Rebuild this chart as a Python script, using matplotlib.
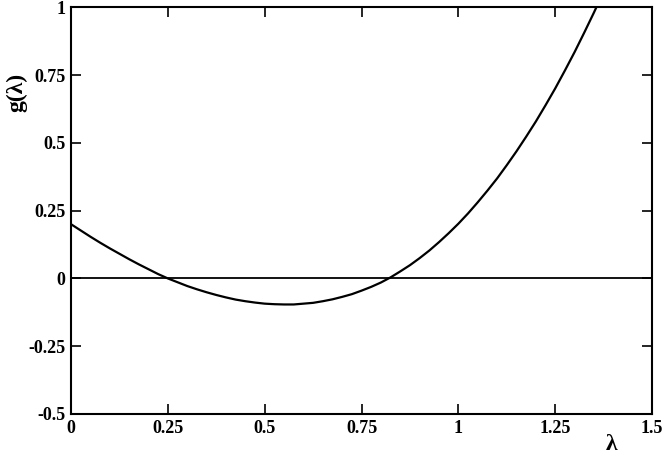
import numpy as np
import matplotlib
matplotlib.use("Agg")
import matplotlib.pyplot as plt

# values
lam = [0.000, 0.025, 0.050, 0.075, 0.100, 0.125, 0.150, 0.175, 0.200, 0.225,
       0.250, 0.275, 0.300, 0.325, 0.350, 0.375, 0.400, 0.425, 0.450, 0.475,
       0.500, 0.525, 0.550, 0.575, 0.600, 0.625, 0.650, 0.675, 0.700, 0.725,
       0.750, 0.775, 0.800, 0.825, 0.850, 0.875, 0.900, 0.925, 0.950, 0.975,
       1.000, 1.025, 1.050, 1.075, 1.100, 1.125, 1.150, 1.175, 1.200, 1.225,
       1.250, 1.275, 1.300, 1.325, 1.350, 1.360]
g = [0.200, 0.177, 0.154, 0.132, 0.111, 0.091, 0.071, 0.052, 0.034, 0.016,
     0.000, -0.014, -0.028, -0.040, -0.051, -0.061, -0.070, -0.078, -0.084, -0.089,
     -0.093, -0.095, -0.096, -0.096, -0.093, -0.090, -0.084, -0.077, -0.068, -0.058,
     -0.045, -0.031, -0.015, 0.004, 0.026, 0.049, 0.075, 0.103, 0.134, 0.167,
     0.202, 0.240, 0.281, 0.324, 0.369, 0.418, 0.469, 0.523, 0.579, 0.639,
     0.701, 0.767, 0.835, 0.907, 0.981, 1.012]

xticks = [0, 0.25, 0.5, 0.75, 1, 1.25, 1.5]
xlabels = ["0", "0.25", "0.5", "0.75", "1", "1.25", "1.5"]
yticks = [-0.5, -0.25, 0, 0.25, 0.5, 0.75, 1]
ylabels = ["-0.5", "-0.25", "0", "0.25", "0.5", "0.75", "1"]

plt.rcParams['font.family'] = ['Liberation Serif', 'DejaVu Serif']
plt.rcParams['font.weight'] = 'bold'

fig = plt.figure(figsize=(6.64, 4.61), dpi=100)
ax = fig.add_axes([0.107, 0.102, 0.875, 0.882])

ax.plot(lam, g, color='black', lw=1.6, solid_joinstyle='round')
ax.axhline(0, color='black', lw=1.3)

ax.set_xlim(0, 1.5)
ax.set_ylim(-0.5, 1)
ax.set_xticks(xticks)
ax.set_xticklabels(xlabels)
ax.set_yticks(yticks)
ax.set_yticklabels(ylabels)
ax.tick_params(direction='in', length=7, width=1.2, labelsize=13,
               top=True, right=True, pad=4)
for s in ax.spines.values():
    s.set_linewidth(1.5)

ax.set_xlabel("λ", fontsize=17, fontweight='bold')
ax.xaxis.set_label_coords(0.931, -0.05)
ax.set_ylabel("g(λ)", fontsize=17, fontweight='bold')
ax.yaxis.set_label_coords(-0.076, 0.79)

fig.savefig("out.png", dpi=100)
